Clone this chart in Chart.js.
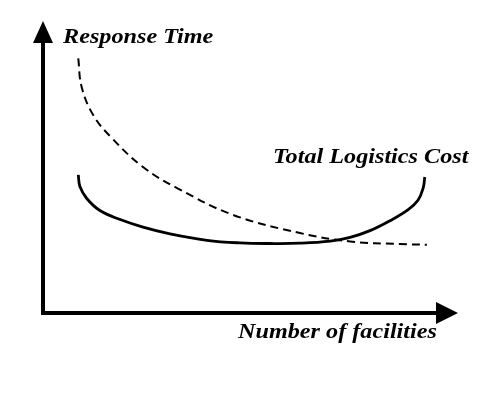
<!DOCTYPE html>
<html>
<head>
<meta charset="utf-8">
<script src="https://cdn.jsdelivr.net/npm/chart.js@4"></script>
<style>
html,body{margin:0;padding:0;background:#fff;}
#wrap{width:490px;height:393px;position:relative;}
</style>
</head>
<body>
<div id="wrap"><canvas id="c" width="490" height="393"></canvas></div>
<script>
// Conceptual values (0-100 scale on both axes)
const responseX = [8.5, 9.3, 12.1, 16.6, 24.1, 32.3, 45.8, 61.9, 74.0, 86.0, 92.5];
const responseY = [87.2, 77.5, 67.8, 59.9, 50.0, 42.8, 33.6, 27.4, 24.5, 23.6, 23.4];
const costX = [8.5, 8.9, 10.5, 13.7, 18.6, 24.1, 30.6, 39.5, 47.5, 54.7, 61.9, 69.2, 74.0, 78.8, 83.6, 88.0, 90.4, 91.6, 92.0];
const costY = [47.3, 43.3, 39.3, 35.1, 32.0, 29.4, 27.1, 24.9, 24.0, 23.8, 23.9, 24.6, 25.9, 28.2, 31.6, 35.4, 38.7, 42.8, 46.6];
const yLabel = "Response Time";
const xLabel = "Number of facilities";
const costLabel = "Total Logistics Cost";

const toPts = (xs, ys) => xs.map((x, i) => ({x: x, y: ys[i]}));

function stretchedText(ctx, text, x, y, sx) {
  ctx.save();
  ctx.translate(x, y);
  ctx.scale(sx, 1);
  ctx.fillText(text, 0, 0);
  ctx.restore();
}

const annotPlugin = {
  id: 'annot',
  afterDraw(chart) {
    const ctx = chart.ctx;
    const a = chart.chartArea;
    ctx.save();
    ctx.fillStyle = '#000';
    ctx.strokeStyle = '#000';
    ctx.lineWidth = 4;
    ctx.lineCap = 'butt';
    ctx.lineJoin = 'miter';
    // axes lines
    ctx.beginPath();
    ctx.moveTo(a.left, a.top + 20);
    ctx.lineTo(a.left, a.bottom);
    ctx.lineTo(a.right - 20, a.bottom);
    ctx.stroke();
    // up arrow
    ctx.beginPath();
    ctx.moveTo(a.left, a.top);
    ctx.lineTo(a.left - 10, a.top + 22);
    ctx.lineTo(a.left + 10, a.top + 22);
    ctx.closePath();
    ctx.fill();
    // right arrow
    ctx.beginPath();
    ctx.moveTo(a.right, a.bottom);
    ctx.lineTo(a.right - 22, a.bottom - 11);
    ctx.lineTo(a.right - 22, a.bottom + 11);
    ctx.closePath();
    ctx.fill();
    // labels
    ctx.font = 'italic bold 22px "Liberation Serif", "Times New Roman", serif';
    ctx.textBaseline = 'alphabetic';
    ctx.textAlign = 'left';
    stretchedText(ctx, yLabel, a.left + 20, a.top + 22, 1.1);
    stretchedText(ctx, costLabel, 273, 163, 1.1);
    stretchedText(ctx, xLabel, 238, 338, 1.1);
    ctx.restore();
  }
};

new Chart(document.getElementById('c'), {
  type: 'scatter',
  data: {
    datasets: [
      {
        label: yLabel,
        data: toPts(responseX, responseY),
        showLine: true,
        borderColor: '#000',
        borderWidth: 2,
        borderDash: [8, 5],
        pointRadius: 0,
        fill: false,
        tension: 0.4
      },
      {
        label: costLabel,
        data: toPts(costX, costY),
        showLine: true,
        borderColor: '#000',
        borderWidth: 2.8,
        pointRadius: 0,
        fill: false,
        tension: 0.4
      }
    ]
  },
  options: {
    responsive: false,
    animation: false,
    devicePixelRatio: 1,
    layout: {padding: {left: 43, right: 32, top: 21, bottom: 80}},
    plugins: {legend: {display: false}, tooltip: {enabled: false}},
    scales: {
      x: {type: 'linear', min: 0, max: 100, display: false},
      y: {type: 'linear', min: 0, max: 100, display: false}
    }
  },
  plugins: [annotPlugin]
});
</script>
</body>
</html>
